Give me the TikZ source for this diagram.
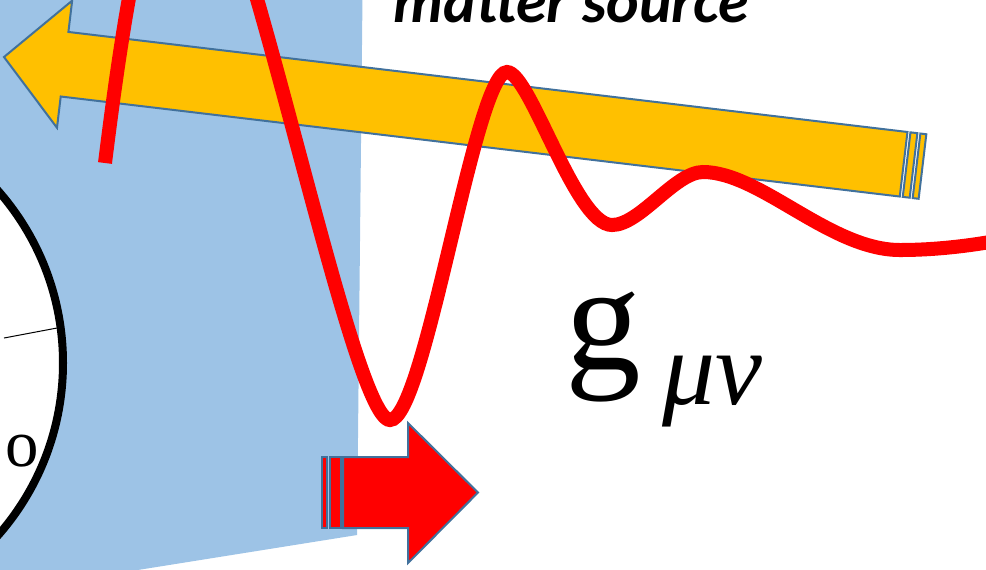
\documentclass[tikz,border=0pt]{standalone}
\usepackage{fontspec}
\setmainfont{Liberation Serif}
\newfontfamily\calloutfont{Carlito}
\usepackage{tikz}
\definecolor{regionblue}{HTML}{9DC3E6}
\definecolor{sourcegold}{HTML}{FFC000}
\definecolor{wavered}{HTML}{FF0000}
\definecolor{edgeblue}{HTML}{41719C}

\begin{document}
\begin{tikzpicture}[
  x=0.01cm, y=-0.01cm,
  region/.style={fill=regionblue, draw=none},
  ring/.style={draw=black, line width=0.8mm, fill=white},
  hand/.style={draw=black, line width=0.1mm},
  shaft/.style={draw=edgeblue, line width=0.2mm, line join=miter},
  wave/.style={draw=wavered, line width=1.4mm},
  plain/.style={inner sep=0pt, text=black}
]
\useasboundingbox (0,0) rectangle (986,569);
\clip (0,0) rectangle (986,569);

\fill[region] (-5,-5) -- (362.5,-5) -- (357,535) -- (144,569) -- (-5,592) -- cycle;
\filldraw[ring] (-198,363) circle [radius=261];
\draw[hand] (4,338) -- (57,328);
\node[plain, font=\fontsize{19}{19}\selectfont] (dial) at (22,451) {o};

\begin{scope}[shift={(4,57)}, rotate=-6.8]
  \filldraw[shaft, fill=sourcegold] (0,0) -- (61,-64) -- (61,-32.5) -- (906,-32.5)
    -- (906,32.5) -- (61,32.5) -- (61,64) -- cycle;
  \filldraw[shaft, fill=sourcegold] (909,-32.5) -- (916,-32.5) -- (916,32.5) -- (909,32.5) -- cycle;
  \filldraw[shaft, fill=sourcegold] (919,-32.5) -- (925,-32.5) -- (925,32.5) -- (919,32.5) -- cycle;
\end{scope}

\filldraw[shaft, fill=wavered] (322,457) rectangle (327,528);
\filldraw[shaft, fill=wavered] (330,457) rectangle (341,528);
\filldraw[shaft, fill=wavered] (343,457) -- (408,457) -- (408,423) -- (478,492.5)
  -- (408,563) -- (408,528) -- (343,528) -- cycle;

\draw[wave] (105,163) .. controls (140,-120) and (165,-150) .. (195,-150)
  .. controls (240,-150) and (350,420) .. (390,420)
  .. controls (425,420) and (475,72) .. (507,72)
  .. controls (530,72) and (575,225) .. (612,225)
  .. controls (640,225) and (675,172) .. (703,172)
  .. controls (760,172) and (830,250) .. (900,250)
  .. controls (930,250) and (960,247) .. (990,242);

\node[plain, anchor=base west, font=\fontsize{17.6}{20}\selectfont\calloutfont\bfseries\itshape]
  (source) at (393,22) {matter source};
\node[plain, anchor=base west, font=\fontsize{43}{43}\selectfont]
  (metric) at (565,369) {g\hspace{0.14em}\raisebox{-10pt}{\fontsize{30}{30}\selectfont\itshape μν}};
\end{tikzpicture}
\end{document}
